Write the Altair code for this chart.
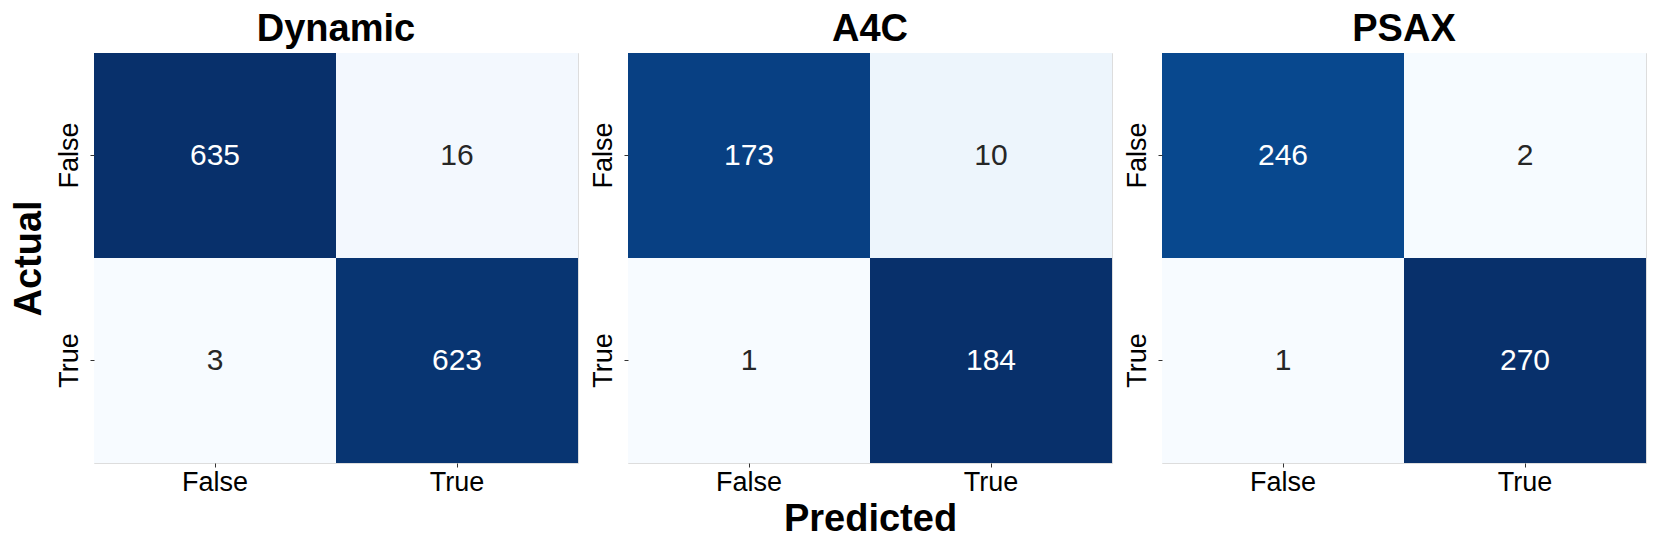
import altair as alt
import pandas as pd

panels = ["Dynamic", "A4C", "PSAX"]
actual = ["False", "False", "True", "True"]
predicted = ["False", "True", "False", "True"]
dynamic_counts = [635, 16, 3, 623]
a4c_counts = [173, 10, 1, 184]
psax_counts = [246, 2, 1, 270]
labels = ["False", "True"]

blues = ["#f7fbff", "#deebf7", "#c6dbef", "#9ecae1", "#6baed6",
         "#4292c6", "#2171b5", "#08519c", "#08306b"]
stops = [i / 8 for i in range(9)]

FONT = "Liberation Sans"
TFONT = "Liberation Sans"

rows = []
for p, counts in zip(panels, [dynamic_counts, a4c_counts, psax_counts]):
    for a, pr, n in zip(actual, predicted, counts):
        rows.append({"panel": p, "Actual": a, "Predicted": pr, "n": n})
df = pd.DataFrame(rows)


def make_panel(name, ytitle, xtitle):
    sub = df[df["panel"] == name]
    base = alt.Chart(sub).transform_joinaggregate(
        vmin="min(n)", vmax="max(n)"
    ).transform_calculate(
        t="(datum.n - datum.vmin) / (datum.vmax - datum.vmin)"
    )
    xax = alt.Axis(labelAngle=0, labelFontSize=27, labelFont=FONT, labelColor="black",
                   domain=False, ticks=True, tickSize=4, tickColor="#333333",
                   labelPadding=2, grid=False,
                   titleFontSize=38, titleFont=TFONT, titleFontWeight="bold",
                   titleColor="black", titlePadding=5)
    yax = alt.Axis(labelAngle=270, labelFontSize=27, labelFont=FONT, labelColor="black",
                   domain=False, ticks=True, tickSize=4, tickColor="#333333",
                   labelPadding=7, grid=False,
                   titleFontSize=38, titleFont=TFONT, titleFontWeight="bold",
                   titleColor="black", titlePadding=7)
    if xtitle:
        xenc = alt.X("Predicted:N", sort=labels, title=xtitle, axis=xax,
                     scale=alt.Scale(paddingInner=0, paddingOuter=0))
    else:
        xenc = alt.X("Predicted:N", sort=labels, title=None, axis=xax,
                     scale=alt.Scale(paddingInner=0, paddingOuter=0))
    if ytitle:
        yenc = alt.Y("Actual:N", sort=labels, title=ytitle, axis=yax,
                     scale=alt.Scale(paddingInner=0, paddingOuter=0))
    else:
        yenc = alt.Y("Actual:N", sort=labels, title=None, axis=yax,
                     scale=alt.Scale(paddingInner=0, paddingOuter=0))

    rect = base.mark_rect().encode(
        x=xenc, y=yenc,
        color=alt.Color("t:Q", legend=None,
                        scale=alt.Scale(domain=stops, range=blues, interpolate="rgb")),
    )
    text = base.mark_text(font=FONT, fontSize=30, baseline="middle").encode(
        x=alt.X("Predicted:N", sort=labels),
        y=alt.Y("Actual:N", sort=labels),
        text="n:Q",
        color=alt.condition("datum.t > 0.5", alt.value("white"), alt.value("#262626")),
    )
    return alt.layer(rect, text).properties(
        width=484, height=410,
        title=alt.TitleParams(name, fontSize=38, font=TFONT, fontWeight="bold",
                              color="black", offset=4, anchor="middle"),
    )


chart = alt.hconcat(
    make_panel("Dynamic", "Actual", None),
    make_panel("A4C", None, "Predicted"),
    make_panel("PSAX", None, None),
    spacing=9,
).properties(
    padding={"left": 1, "top": 2, "right": 0, "bottom": 0},
).configure_view(stroke=None).configure(background="white")

chart.save("out.html", embed_options={"renderer": "svg", "actions": False})
